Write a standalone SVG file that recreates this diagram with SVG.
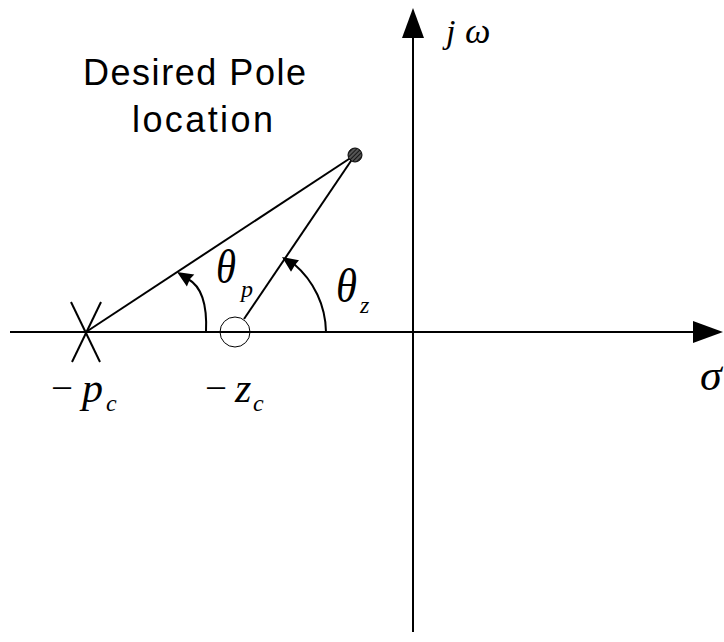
<svg xmlns="http://www.w3.org/2000/svg" width="724" height="642" viewBox="0 0 724 642">
<style>
.ln{stroke:#000;stroke-width:2;fill:none}
.ah{fill:#000;stroke:none}
.sans{font-family:"Liberation Sans",Arial,sans-serif;font-size:36px;fill:#000}
.mi{font-family:"Liberation Serif","Times New Roman",serif;font-style:italic;fill:#000}
.mr{font-family:"Liberation Serif","Times New Roman",serif;fill:#000}
</style>
<defs>
<pattern id="hatch" width="3" height="3" patternUnits="userSpaceOnUse" patternTransform="rotate(45)">
<rect width="3" height="3" fill="#555"/>
<line x1="0" y1="0" x2="0" y2="3" stroke="#000" stroke-width="1.5"/>
</pattern>
</defs>
<rect width="724" height="642" fill="#fff"/>
<g id="axes">
<line class="ln" x1="10" y1="332" x2="700" y2="332"/>
<polygon class="ah" points="723,332 693,321 693,343"/>
<line class="ln" x1="413" y1="30" x2="413" y2="632"/>
<polygon class="ah" points="413,8 402,38 424,38"/>
</g>
<g id="connectors">
<line class="ln" x1="86" y1="332" x2="355" y2="155"/>
<line class="ln" x1="244" y1="319" x2="355" y2="155"/>
<path class="ln" d="M206,332 Q208,290 188,279"/>
<polygon class="ah" points="177,272 194.3,274.5 190,279 186.9,286.5"/>
<path class="ln" d="M326,332 A91,91 0 0 0 294,264"/>
<polygon class="ah" points="282,257 299,260.3 295,265 291,271.7"/>
</g>
<g id="pole-desired">
<circle cx="355" cy="155" r="7" fill="url(#hatch)" stroke="#000" stroke-width="1"/>
</g>
<g id="pole-pc">
<line class="ln" x1="71" y1="302" x2="100" y2="362"/>
<line class="ln" x1="101" y1="302" x2="72" y2="362"/>
</g>
<g id="zero-zc">
<circle cx="235" cy="332" r="15" fill="none" stroke="#000" stroke-width="1"/>
</g>
<g id="labels">
<text class="sans" x="83" y="85" textLength="223" lengthAdjust="spacing">Desired Pole</text>
<text class="sans" x="132" y="132" textLength="141" lengthAdjust="spacing">location</text>
<text class="mi" x="446" y="43" font-size="34">j</text>
<text class="mi" x="465" y="43" font-size="36">ω</text>
<text class="mi" x="700" y="390" font-size="44">σ</text>
<text class="mi" x="216" y="283" font-size="48" textLength="20" lengthAdjust="spacingAndGlyphs">θ</text>
<text class="mi" x="241" y="297" font-size="24">p</text>
<text class="mi" x="336" y="302" font-size="48" textLength="21" lengthAdjust="spacingAndGlyphs">θ</text>
<text class="mi" x="360" y="313" font-size="24">z</text>
<text class="mr" x="51" y="401" font-size="38" textLength="22" lengthAdjust="spacingAndGlyphs">−</text>
<text class="mi" x="82" y="402" font-size="42">p</text>
<text class="mi" x="106" y="411" font-size="24">c</text>
<text class="mr" x="205" y="401" font-size="38" textLength="22" lengthAdjust="spacingAndGlyphs">−</text>
<text class="mi" x="235" y="402" font-size="42">z</text>
<text class="mi" x="253" y="411" font-size="24">c</text>
</g>
</svg>
